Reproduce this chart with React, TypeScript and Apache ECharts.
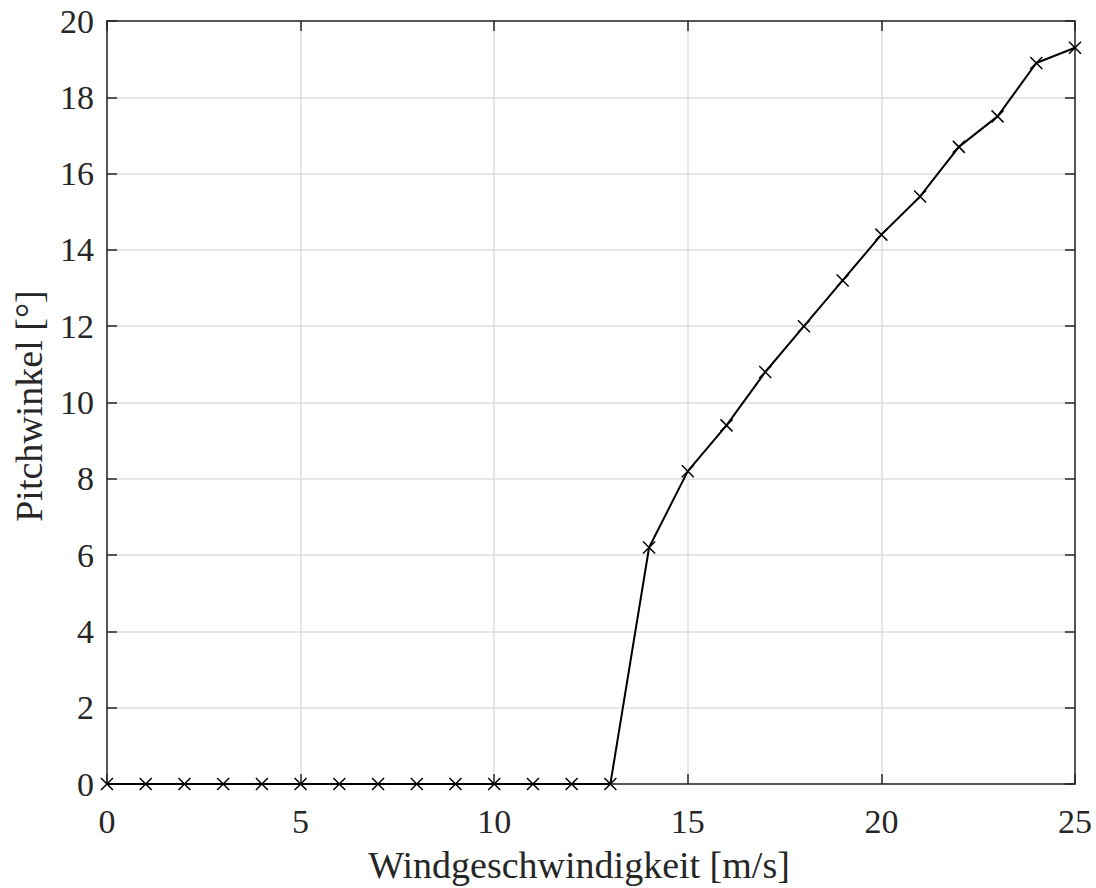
import React, { useEffect, useRef } from "react";
import * as echarts from "echarts";

const windSpeeds = [0, 1, 2, 3, 4, 5, 6, 7, 8, 9, 10, 11, 12, 13, 14, 15, 16, 17, 18, 19, 20, 21, 22, 23, 24, 25];
const pitchAngles = [0, 0, 0, 0, 0, 0, 0, 0, 0, 0, 0, 0, 0, 0, 6.2, 8.2, 9.4, 10.8, 12.0, 13.2, 14.4, 15.4, 16.7, 17.5, 18.9, 19.3];
const xLabel = "Windgeschwindigkeit [m/s]";
const yLabel = "Pitchwinkel [°]";

const FONT = "'Liberation Serif', 'Times New Roman', serif";
const AXIS_COLOR = "#262626";

export default function App() {
  const ref = useRef<HTMLDivElement>(null);
  useEffect(() => {
    if (!ref.current) return;
    const chart = echarts.init(ref.current, undefined, { renderer: "svg" });
    const data = windSpeeds.map((x, i) => [x, pitchAngles[i]]);
    const axisLine = { show: true, onZero: false, lineStyle: { color: AXIS_COLOR, width: 1.5 } };
    const axisTick = { show: true, inside: true, length: 10, lineStyle: { color: AXIS_COLOR, width: 1.5 } };
    const splitLine = { show: true, lineStyle: { color: "#dedede", width: 1.5 } };
    chart.setOption({
      animation: false,
      backgroundColor: "#ffffff",
      grid: { left: 107, top: 21, right: 21, bottom: 104, containLabel: false },
      graphic: [
        {
          type: "text",
          x: 579,
          y: 865,
          style: {
            text: xLabel,
            font: `38px ${FONT}`,
            fill: AXIS_COLOR,
            align: "center",
            verticalAlign: "middle",
          },
        },
        {
          type: "text",
          x: 29,
          y: 406,
          rotation: Math.PI / 2,
          style: {
            text: yLabel,
            font: `38px ${FONT}`,
            fill: AXIS_COLOR,
            align: "center",
            verticalAlign: "middle",
          },
        },
      ],
      xAxis: [
        {
          type: "value",
          min: 0,
          max: 25,
          interval: 5,
          position: "bottom",
          axisLine,
          axisTick,
          splitLine,
          axisLabel: { fontFamily: FONT, fontSize: 34, color: AXIS_COLOR, margin: 20 },
        },
        {
          type: "value",
          min: 0,
          max: 25,
          interval: 5,
          position: "top",
          axisLine,
          axisTick,
          splitLine: { show: false },
          axisLabel: { show: false },
        },
      ],
      yAxis: [
        {
          type: "value",
          min: 0,
          max: 20,
          interval: 2,
          position: "left",
          axisLine,
          axisTick,
          splitLine,
          axisLabel: { fontFamily: FONT, fontSize: 34, color: AXIS_COLOR, margin: 13 },
        },
        {
          type: "value",
          min: 0,
          max: 20,
          interval: 2,
          position: "right",
          axisLine,
          axisTick,
          splitLine: { show: false },
          axisLabel: { show: false },
        },
      ],
      series: [
        {
          type: "line",
          data,
          xAxisIndex: 0,
          yAxisIndex: 0,
          lineStyle: { color: "#000000", width: 2 },
          symbol: "path://M0,0L10,10M10,0L0,10",
          symbolSize: 12,
          showSymbol: true,
          itemStyle: { color: "transparent", borderColor: "#000000", borderWidth: 1.5 },
          clip: false,
          z: 5,
        },
      ],
    });
    return () => chart.dispose();
  }, []);
  return (
    <div
      ref={ref}
      style={{ position: "fixed", left: 0, top: 0, width: 1096, height: 888, background: "#fff" }}
    />
  );
}
